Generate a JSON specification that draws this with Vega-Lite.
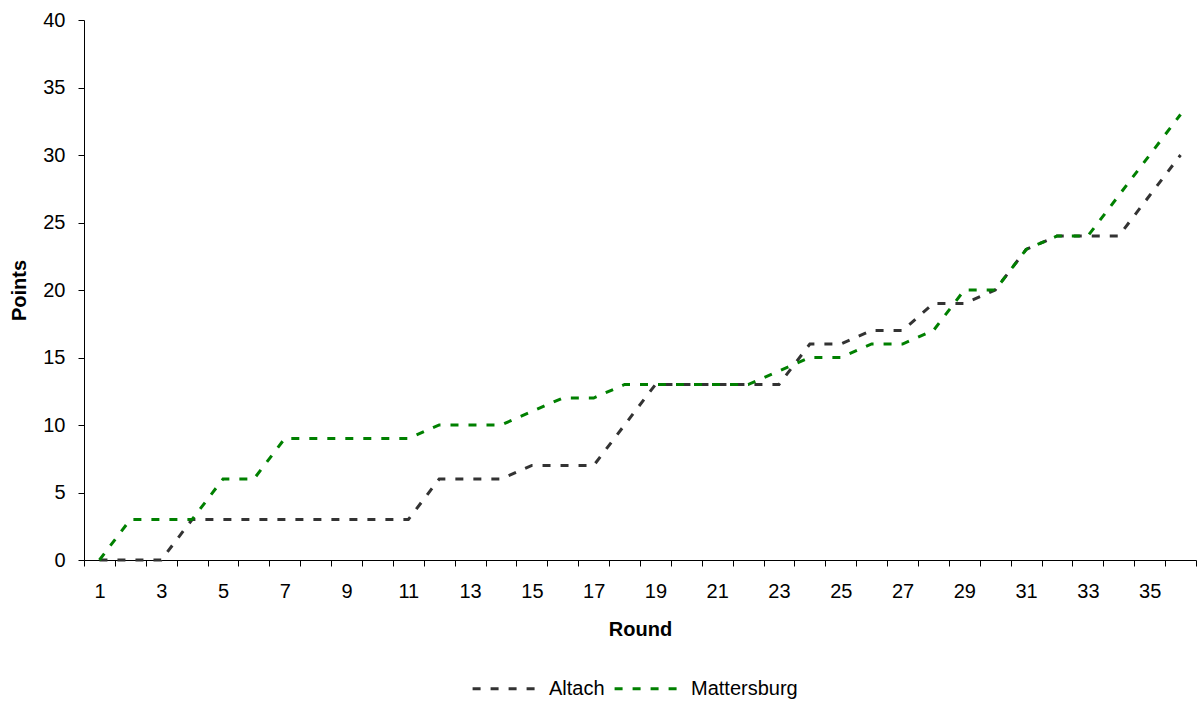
{
  "$schema": "https://vega.github.io/schema/vega-lite/v6.json",
  "width": 1112,
  "height": 540,
  "autosize": {"type": "none"},
  "padding": {"left": 84, "top": 20, "right": 3, "bottom": 142},
  "background": "white",
  "config": {
    "view": {"stroke": null},
    "font": "Liberation Sans",
    "axis": {
      "domainColor": "#000000",
      "domainWidth": 1,
      "tickColor": "#000000",
      "tickWidth": 1,
      "tickSize": 6,
      "grid": false,
      "labelFont": "Liberation Sans",
      "labelFontSize": 20,
      "labelColor": "#000000",
      "titleFont": "Liberation Sans",
      "titleFontSize": 20,
      "titleFontWeight": "bold",
      "titleColor": "#000000"
    },
    "legend": {
      "labelFont": "Liberation Sans",
      "labelFontSize": 20,
      "labelColor": "#000000"
    }
  },
  "data": {
    "values": [
      {"round": 1, "team": "Altach", "points": 0},
      {"round": 2, "team": "Altach", "points": 0},
      {"round": 3, "team": "Altach", "points": 0},
      {"round": 4, "team": "Altach", "points": 3},
      {"round": 5, "team": "Altach", "points": 3},
      {"round": 6, "team": "Altach", "points": 3},
      {"round": 7, "team": "Altach", "points": 3},
      {"round": 8, "team": "Altach", "points": 3},
      {"round": 9, "team": "Altach", "points": 3},
      {"round": 10, "team": "Altach", "points": 3},
      {"round": 11, "team": "Altach", "points": 3},
      {"round": 12, "team": "Altach", "points": 6},
      {"round": 13, "team": "Altach", "points": 6},
      {"round": 14, "team": "Altach", "points": 6},
      {"round": 15, "team": "Altach", "points": 7},
      {"round": 16, "team": "Altach", "points": 7},
      {"round": 17, "team": "Altach", "points": 7},
      {"round": 18, "team": "Altach", "points": 10},
      {"round": 19, "team": "Altach", "points": 13},
      {"round": 20, "team": "Altach", "points": 13},
      {"round": 21, "team": "Altach", "points": 13},
      {"round": 22, "team": "Altach", "points": 13},
      {"round": 23, "team": "Altach", "points": 13},
      {"round": 24, "team": "Altach", "points": 16},
      {"round": 25, "team": "Altach", "points": 16},
      {"round": 26, "team": "Altach", "points": 17},
      {"round": 27, "team": "Altach", "points": 17},
      {"round": 28, "team": "Altach", "points": 19},
      {"round": 29, "team": "Altach", "points": 19},
      {"round": 30, "team": "Altach", "points": 20},
      {"round": 31, "team": "Altach", "points": 23},
      {"round": 32, "team": "Altach", "points": 24},
      {"round": 33, "team": "Altach", "points": 24},
      {"round": 34, "team": "Altach", "points": 24},
      {"round": 35, "team": "Altach", "points": 27},
      {"round": 36, "team": "Altach", "points": 30},
      {"round": 1, "team": "Mattersburg", "points": 0},
      {"round": 2, "team": "Mattersburg", "points": 3},
      {"round": 3, "team": "Mattersburg", "points": 3},
      {"round": 4, "team": "Mattersburg", "points": 3},
      {"round": 5, "team": "Mattersburg", "points": 6},
      {"round": 6, "team": "Mattersburg", "points": 6},
      {"round": 7, "team": "Mattersburg", "points": 9},
      {"round": 8, "team": "Mattersburg", "points": 9},
      {"round": 9, "team": "Mattersburg", "points": 9},
      {"round": 10, "team": "Mattersburg", "points": 9},
      {"round": 11, "team": "Mattersburg", "points": 9},
      {"round": 12, "team": "Mattersburg", "points": 10},
      {"round": 13, "team": "Mattersburg", "points": 10},
      {"round": 14, "team": "Mattersburg", "points": 10},
      {"round": 15, "team": "Mattersburg", "points": 11},
      {"round": 16, "team": "Mattersburg", "points": 12},
      {"round": 17, "team": "Mattersburg", "points": 12},
      {"round": 18, "team": "Mattersburg", "points": 13},
      {"round": 19, "team": "Mattersburg", "points": 13},
      {"round": 20, "team": "Mattersburg", "points": 13},
      {"round": 21, "team": "Mattersburg", "points": 13},
      {"round": 22, "team": "Mattersburg", "points": 13},
      {"round": 23, "team": "Mattersburg", "points": 14},
      {"round": 24, "team": "Mattersburg", "points": 15},
      {"round": 25, "team": "Mattersburg", "points": 15},
      {"round": 26, "team": "Mattersburg", "points": 16},
      {"round": 27, "team": "Mattersburg", "points": 16},
      {"round": 28, "team": "Mattersburg", "points": 17},
      {"round": 29, "team": "Mattersburg", "points": 20},
      {"round": 30, "team": "Mattersburg", "points": 20},
      {"round": 31, "team": "Mattersburg", "points": 23},
      {"round": 32, "team": "Mattersburg", "points": 24},
      {"round": 33, "team": "Mattersburg", "points": 24},
      {"round": 34, "team": "Mattersburg", "points": 27},
      {"round": 35, "team": "Mattersburg", "points": 30},
      {"round": 36, "team": "Mattersburg", "points": 33}
    ]
  },
  "mark": {"type": "line", "strokeWidth": 3, "strokeDash": [8, 10], "interpolate": "linear"},
  "encoding": {
    "x": {
      "field": "round",
      "type": "quantitative",
      "scale": {"domain": [0.5, 36.5], "nice": false, "zero": false},
      "axis": {
        "title": "Round",
        "values": [0.5,1.5,2.5,3.5,4.5,5.5,6.5,7.5,8.5,9.5,10.5,11.5,12.5,13.5,14.5,15.5,16.5,17.5,18.5,19.5,20.5,21.5,22.5,23.5,24.5,25.5,26.5,27.5,28.5,29.5,30.5,31.5,32.5,33.5,34.5,35.5,36.5],
        "labelExpr": "((datum.value + 0.5) % 2 == 1 && datum.value < 36) ? format(datum.value + 0.5, 'd') : ''",
        "labelOffset": 15.44,
        "labelOverlap": false,
        "labelFlush": false,
        "labelBound": false,
        "labelPadding": 15,
        "titlePadding": 18
      }
    },
    "y": {
      "field": "points",
      "type": "quantitative",
      "scale": {"domain": [0, 40], "nice": false},
      "axis": {
        "title": "Points",
        "values": [0, 5, 10, 15, 20, 25, 30, 35, 40],
        "labelPadding": 13,
        "titlePadding": 13
      }
    },
    "color": {
      "field": "team",
      "type": "nominal",
      "scale": {"domain": ["Altach", "Mattersburg"], "range": ["#333333", "#008000"]},
      "legend": {
        "title": null,
        "orient": "none",
        "direction": "horizontal",
        "legendX": 387,
        "legendY": 633,
        "symbolType": "stroke",
        "symbolSize": 4600,
        "symbolStrokeWidth": 3,
        "symbolDash": [8, 10],
        "labelOffset": 7,
        "columnPadding": 3
      }
    }
  }
}
